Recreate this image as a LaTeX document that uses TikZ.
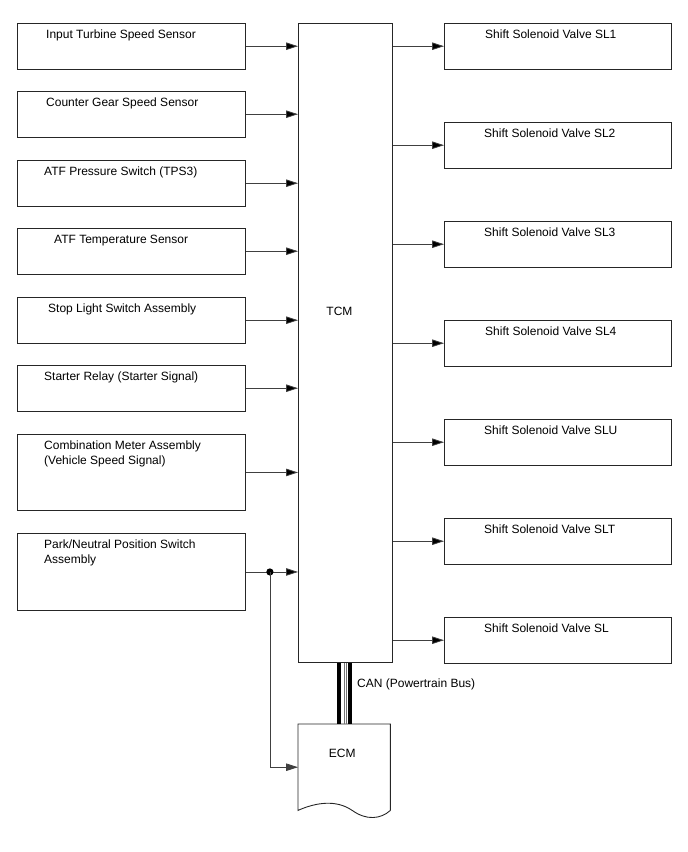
\documentclass[tikz,border=0pt]{standalone}
\usepackage{fontspec}
\setmainfont{Liberation Sans}
\usetikzlibrary{arrows.meta}
\usetikzlibrary{positioning}

\begin{document}
\begin{tikzpicture}[x=1pt,y=-1pt]
      \tikzset{
        >={Triangle[length=12pt,width=7.5pt]},
        box/.style={draw=black!85, line width=0.9pt, anchor=north west, inner sep=0pt, minimum height=45.5pt},
        inbox/.style={box, minimum width=228pt},
        outbox/.style={box, minimum width=227pt},
        lbl/.style={anchor=north west, inner sep=0pt, align=left, font=\fontsize{12}{15.5}\selectfont},
        wire/.style={draw=black!75, line width=0.8pt},
        bus/.style={draw=black, line width=3.8pt},
        thinbus/.style={draw=black!55, line width=0.7pt},
      }
      \useasboundingbox (0,0) rectangle (688,852);

      % inputs
      \node[inbox, label={[lbl, xshift=29pt, yshift=-6.5pt]north west:Input Turbine Speed Sensor}] (in1) at (17,23) {};
      \node[inbox, label={[lbl, xshift=29pt, yshift=-6.5pt]north west:Counter Gear Speed Sensor}] (in2) at (17,91) {};
      \node[inbox, label={[lbl, xshift=27pt, yshift=-6.5pt]north west:ATF Pressure Switch (TPS3)}] (in3) at (17,160) {};
      \node[inbox, label={[lbl, xshift=37pt, yshift=-6.5pt]north west:ATF Temperature Sensor}] (in4) at (17,228) {};
      \node[inbox, label={[lbl, xshift=31pt, yshift=-6.5pt]north west:Stop Light Switch Assembly}] (in5) at (17,297) {};
      \node[inbox, label={[lbl, xshift=27pt, yshift=-6.5pt]north west:Starter Relay (Starter Signal)}] (in6) at (17,365) {};
      \node[inbox, minimum height=76pt, label={[lbl, xshift=27pt, yshift=-6.5pt]north west:Combination Meter Assembly\\(Vehicle Speed Signal)}] (in7) at (17,434) {};
      \node[inbox, minimum height=77pt, label={[lbl, xshift=27pt, yshift=-6.5pt]north west:Park/Neutral Position Switch\\Assembly}] (in8) at (17,533) {};

      % controllers
      \node[box, minimum width=94pt, minimum height=639pt, label={[lbl, anchor=north, xshift=-6pt, yshift=-284pt]north:TCM}] (tcm) at (298,23) {};
      \node[anchor=north west, inner sep=0pt, minimum width=92pt, minimum height=86pt, label={[lbl, anchor=north, xshift=-2pt, yshift=-25pt]north:ECM}] (ecm) at (298,724) {};

      % outputs
      \node[outbox, label={[lbl, xshift=41pt, yshift=-6.5pt]north west:Shift Solenoid Valve SL1}] (sl1) at (444,23) {};
      \node[outbox, label={[lbl, xshift=40pt, yshift=-6.5pt]north west:Shift Solenoid Valve SL2}] (sl2) at (444,122) {};
      \node[outbox, label={[lbl, xshift=40pt, yshift=-6.5pt]north west:Shift Solenoid Valve SL3}] (sl3) at (444,221) {};
      \node[outbox, label={[lbl, xshift=41pt, yshift=-6.5pt]north west:Shift Solenoid Valve SL4}] (sl4) at (444,320) {};
      \node[outbox, label={[lbl, xshift=40pt, yshift=-6.5pt]north west:Shift Solenoid Valve SLU}] (slu) at (444,419) {};
      \node[outbox, label={[lbl, xshift=40pt, yshift=-6.5pt]north west:Shift Solenoid Valve SLT}] (slt) at (444,518) {};
      \node[outbox, label={[lbl, xshift=40pt, yshift=-6.5pt]north west:Shift Solenoid Valve SL}] (sl) at (444,617) {};

      \node[lbl] (can) at (357,679) {CAN (Powertrain Bus)};

      % ECM outline with wavy bottom
      \draw[draw=black!85, line width=0.9pt]
        (ecm.south east) -- (ecm.north east) -- (ecm.north west) -- (ecm.south west)
        .. controls ([xshift=18pt,yshift=8pt]ecm.south west) and ([xshift=-8pt,yshift=11pt]ecm.south) .. ([xshift=8pt]ecm.south)
        .. controls ([xshift=22pt,yshift=-10pt]ecm.south) and ([xshift=-10pt,yshift=-9pt]ecm.south east) .. (ecm.south east);

      \draw[wire]
        (in1.east) edge[->] (in1.east -| tcm.west)
        (in2.east) edge[->] (in2.east -| tcm.west)
        (in3.east) edge[->] (in3.east -| tcm.west)
        (in4.east) edge[->] (in4.east -| tcm.west)
        (in5.east) edge[->] (in5.east -| tcm.west)
        (in6.east) edge[->] (in6.east -| tcm.west)
        (in7.east) edge[->] (in7.east -| tcm.west)
        (in8.east) edge[->] (in8.east -| tcm.west);

      \draw[wire]
        (sl1.west -| tcm.east) edge[->] (sl1.west)
        (sl2.west -| tcm.east) edge[->] (sl2.west)
        (sl3.west -| tcm.east) edge[->] (sl3.west)
        (sl4.west -| tcm.east) edge[->] (sl4.west)
        (slu.west -| tcm.east) edge[->] (slu.west)
        (slt.west -| tcm.east) edge[->] (slt.west)
        (sl.west -| tcm.east) edge[->] (sl.west);

      % park/neutral signal also to ECM
      \path (in8.east) -- ++(24,0) coordinate (pn);
      \fill (pn) circle (3.6pt);
      \draw[wire, ->] (pn) |- (ecm.west);

      % CAN bus
      \draw[bus] ([xshift=-6.5pt]tcm.south) -- ([xshift=-6.5pt]tcm.south |- ecm.north);
      \draw[bus] ([xshift=4.8pt]tcm.south) -- ([xshift=4.8pt]tcm.south |- ecm.north);
      \draw[thinbus] ([xshift=-1.5pt]tcm.south) -- ([xshift=-1.5pt]tcm.south |- ecm.north);
      \draw[thinbus] ([xshift=1pt]tcm.south) -- ([xshift=1pt]tcm.south |- ecm.north);
\end{tikzpicture}
\end{document}
